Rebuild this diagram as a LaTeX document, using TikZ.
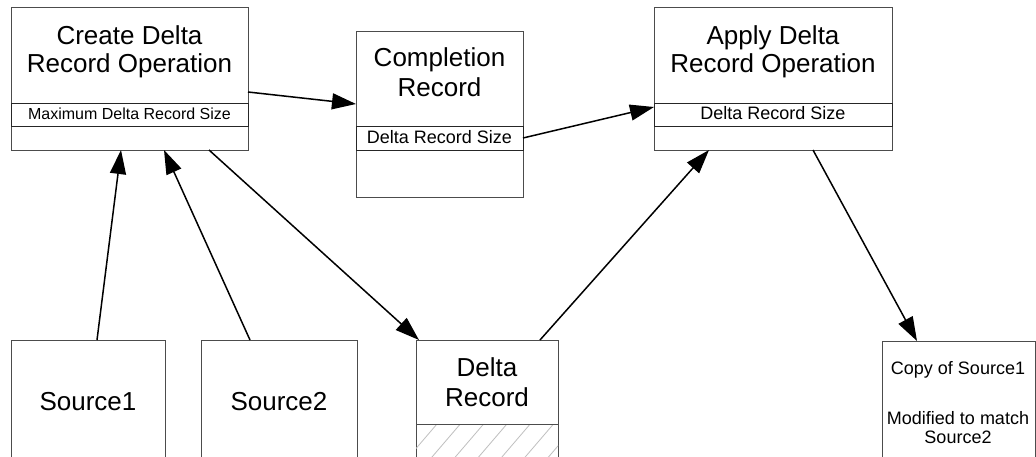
\documentclass[tikz,border=0pt]{standalone}
\usepackage{fontspec}
\setmainfont{Liberation Sans}
\usetikzlibrary{arrows.meta,calc}
\tikzset{
  boxstyle/.style={draw=black!70, line width=0.9pt, inner sep=0pt, outer sep=0pt, anchor=north west},
  bandstyle/.style={draw=black!85, line width=0.9pt, inner sep=0pt, outer sep=0pt, anchor=north west},
  bigtext/.style={font=\fontsize{26}{28}\selectfont, anchor=base, inner sep=0pt},
  midtext/.style={font=\fontsize{18}{20}\selectfont, anchor=base, inner sep=0pt},
  smalltext/.style={font=\fontsize{16}{18}\selectfont, anchor=base, inner sep=0pt},
  conn/.style={line width=1.5pt, -{Triangle[length=24pt,width=16pt]}},
}
\begin{document}
\begin{tikzpicture}[x=1pt,y=-1pt]
\useasboundingbox (0,0) rectangle (1036,457);
\clip (0,0) rectangle (1036,457);
\fill[white] (0,0) rectangle (1036,457);
% boxes
\node[boxstyle, minimum width=237pt, minimum height=143pt] (create) at (11,7) {};
\node[bandstyle, minimum width=237pt, minimum height=23pt] (createband) at (11,103) {};
\node[boxstyle, minimum width=167pt, minimum height=166pt] (compl) at (356,31) {};
\node[bandstyle, minimum width=167pt, minimum height=24pt] (complband) at (356,126) {};
\node[boxstyle, minimum width=238pt, minimum height=143pt] (apply) at (654,7) {};
\node[bandstyle, minimum width=238pt, minimum height=23pt] (applyband) at (654,103) {};
\node[boxstyle, minimum width=154pt, minimum height=140pt] (src1) at (11,340) {};
\node[boxstyle, minimum width=156pt, minimum height=140pt] (src2) at (201,340) {};
\node[boxstyle, minimum width=142pt, minimum height=140pt] (delta) at (416,340) {};
\node[boxstyle, minimum width=153pt, minimum height=140pt] (copy) at (882,341) {};
% hatch in delta record
\begin{scope}
\clip (416,424) rectangle (558,480);
\foreach \i in {-4,...,7} {
  \draw[black!25, line width=0.8pt] ({437+23.3*\i},424) -- ++(-48,56);
}
\end{scope}
\draw[black!70, line width=0.9pt] (416,424) -- (558,424);
% texts
\node[bigtext] (t1) at (129.5,45) {Create Delta};
\node[bigtext] (t2) at (129.5,73) {Record Operation};
\node[smalltext] (t3) at (129.5,120) {Maximum Delta Record Size};
\node[bigtext] (t4) at (439.5,67) {Completion};
\node[bigtext] (t5) at (439.5,97) {Record};
\node[midtext] (t6) at (439.5,144) {Delta Record Size};
\node[bigtext] (t7) at (773,45) {Apply Delta};
\node[bigtext] (t8) at (773,73) {Record Operation};
\node[midtext] (t9) at (773,120) {Delta Record Size};
\node[bigtext] (t10) at (88,410) {Source1};
\node[bigtext] (t11) at (279,410) {Source2};
\node[bigtext] (t12) at (487,376) {Delta};
\node[bigtext] (t13) at (487,406) {Record};
\node[midtext] (t14) at (958,374) {Copy of Source1};
\node[midtext] (t15) at (958,424) {Modified to match};
\node[midtext] (t16) at (958,443) {Source2};
% connectors
\draw[conn] ($(create.north east)+(0,85)$) -- ($(compl.north west)+(0,73)$);
\draw[conn] ($(compl.north east)+(0,107)$) -- ($(apply.north west)+(0,100)$);
\draw[conn] ($(src1.north west)+(86,0)$) -- ($(create.south west)+(110,0)$);
\draw[conn] ($(src2.north west)+(49,0)$) -- ($(create.south west)+(153,0)$);
\draw[conn] ($(create.south west)+(198,0)$) -- ($(delta.north west)+(3,0)$);
\draw[conn] ($(delta.north west)+(124,0)$) -- ($(apply.south west)+(55,0)$);
\draw[conn] ($(apply.south west)+(159,0)$) -- ($(copy.north west)+(35,0)$);
\end{tikzpicture}
\end{document}
